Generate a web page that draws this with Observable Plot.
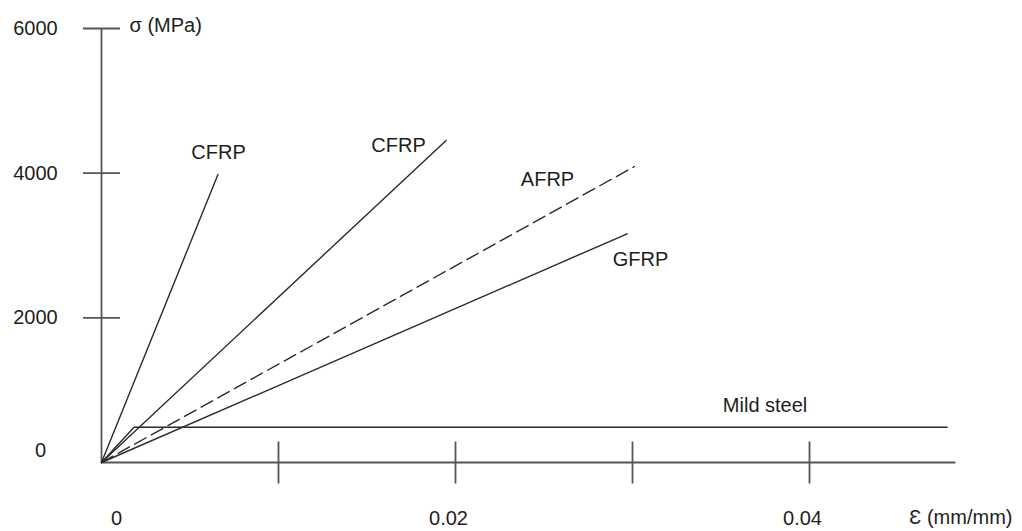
<!DOCTYPE html>
<html>
<head>
<meta charset="utf-8">
<script src="https://cdn.jsdelivr.net/npm/d3@7"></script>
<script src="https://cdn.jsdelivr.net/npm/@observablehq/plot@0.6"></script>
<style>
  html, body { margin: 0; padding: 0; background: #fff; overflow: hidden; }
  svg { display: block; }
</style>
</head>
<body>
<div id="chart"></div>
<script>
// ---- Data ----
const seriesNames  = ["CFRP (high modulus)", "CFRP", "AFRP", "GFRP", "Mild steel"];
const seriesStrain = [[0, 0.00658], [0, 0.01947], [0, 0.03011], [0, 0.02970], [0, 0.00184, 0.04778]];
const seriesStress = [[0, 3982],    [0, 4452],    [0, 4092],    [0, 3162],    [0, 488, 488]];
const dashedSeries = ["AFRP"];

const labelTexts  = ["CFRP", "CFRP", "AFRP", "GFRP", "Mild steel"];
const labelStrain = [0.00661, 0.01678, 0.02520, 0.03045, 0.03749];
const labelStress = [4286, 4382, 3912, 2806, 788];

const yTickValues = [2000, 4000, 6000];
const yTickLabels = ["2000", "4000", "6000"];
const xTickValues = [0.01, 0.02, 0.03, 0.04];
const xLabelValues = [0.02, 0.04];
const xLabelTexts = ["0.02", "0.04"];
const originLabel = "0";

const yAxisTitle = "σ (MPa)";
const xAxisTitle = "Ɛ (mm/mm)";
const xAxisEnd = 0.04827;
const yAxisEnd = 6000;

// ---- Build rows ----
const rows = [];
seriesNames.forEach((name, i) => {
  seriesStrain[i].forEach((e, j) => rows.push({name, strain: e, stress: seriesStress[i][j]}));
});
const labels = labelTexts.map((t, i) => ({text: t, strain: labelStrain[i], stress: labelStress[i]}));

const ink = "#2a2a2a";
const axisInk = "#555";
const textInk = "#1e1e1e";
const font = "'Liberation Sans', Arial, Helvetica, sans-serif";

// short dash symbols used as the axis tick marks (they cross the axis line)
const hTick = {draw(ctx) { ctx.moveTo(-18.5, 0); ctx.lineTo(18.5, 0); }};
const vTick = {draw(ctx) { ctx.moveTo(0, -21); ctx.lineTo(0, 21); }};

const chart = Plot.plot({
  width: 1022,
  height: 531,
  marginLeft: 0, marginRight: 0, marginTop: 0, marginBottom: 0,
  x: {domain: [0, 0.04], range: [101, 809], axis: null},
  y: {domain: [0, 6000], range: [462, 28], axis: null},
  style: {fontFamily: font, fontSize: "20px", color: textInk, background: "#fff"},
  marks: [
    // axes
    Plot.ruleX([0], {y1: 0, y2: yAxisEnd, stroke: axisInk, strokeWidth: 1.8}),
    Plot.ruleY([0], {x1: 0, x2: xAxisEnd, stroke: axisInk, strokeWidth: 1.8}),
    Plot.dot(yTickValues, {x: 0, y: d => d, symbol: hTick, stroke: axisInk, fill: "none", strokeWidth: 1.8}),
    Plot.dot(xTickValues, {x: d => d, y: 0, symbol: vTick, stroke: axisInk, fill: "none", strokeWidth: 1.8}),
    // tick labels
    Plot.text(yTickValues, {x: 0, y: d => d, text: (d, i) => yTickLabels[i], dx: -66, textAnchor: "middle", fontSize: 20, fill: textInk}),
    Plot.text([0], {x: 0, y: 0, text: () => originLabel, dx: -61, dy: -12, textAnchor: "middle", fontSize: 20, fill: textInk}),
    Plot.text([0], {x: 0, y: 0, text: () => originLabel, dx: 15, dy: 56, textAnchor: "middle", fontSize: 20, fill: textInk}),
    Plot.text(xLabelValues, {x: d => d, y: 0, text: (d, i) => xLabelTexts[i], dx: -7, dy: 56, textAnchor: "middle", fontSize: 20, fill: textInk}),
    // axis titles
    Plot.text([yAxisEnd], {x: 0, y: d => d, text: () => yAxisTitle, dx: 28, dy: -3, textAnchor: "start", fontSize: 20, fill: textInk}),
    Plot.text([xAxisEnd], {x: d => d, y: 0, text: () => xAxisTitle, dx: 5, dy: 55, textAnchor: "middle", fontSize: 20, fill: textInk}),
    // stress-strain lines
    Plot.line(rows.filter(r => !dashedSeries.includes(r.name)), {x: "strain", y: "stress", z: "name", stroke: ink, strokeWidth: 1.4}),
    Plot.line(rows.filter(r => dashedSeries.includes(r.name)), {x: "strain", y: "stress", z: "name", stroke: ink, strokeWidth: 1.4, strokeDasharray: "13,6"}),
    // series labels
    Plot.text(labels, {x: "strain", y: "stress", text: "text", textAnchor: "middle", fontSize: 20, fill: textInk})
  ]
});
document.getElementById("chart").appendChild(chart);
</script>
</body>
</html>
